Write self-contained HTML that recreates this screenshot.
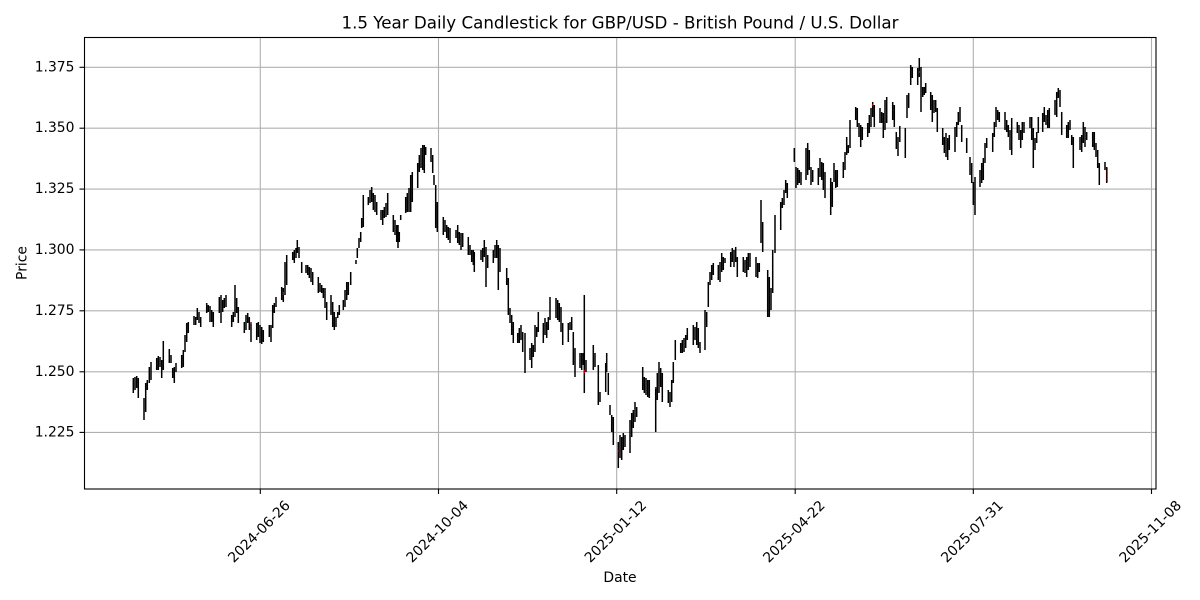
<!DOCTYPE html>
<html><head><meta charset="utf-8"><style>
html,body{margin:0;padding:0;background:#fff;}
svg{display:block;font-family:"DejaVu Sans","Liberation Sans",sans-serif;}
</style></head><body>
<svg width="1200" height="600" viewBox="0 0 1200 600" xmlns="http://www.w3.org/2000/svg">
<rect width="1200" height="600" fill="#fff"/>
<!-- grid -->
<g stroke="#b0b0b0" stroke-width="1.1">
<line x1="84.5" x2="1156" y1="67.3" y2="67.3"/>
<line x1="84.5" x2="1156" y1="128.2" y2="128.2"/>
<line x1="84.5" x2="1156" y1="189.1" y2="189.1"/>
<line x1="84.5" x2="1156" y1="249.9" y2="249.9"/>
<line x1="84.5" x2="1156" y1="310.8" y2="310.8"/>
<line x1="84.5" x2="1156" y1="371.8" y2="371.8"/>
<line x1="84.5" x2="1156" y1="432.4" y2="432.4"/>
<line y1="37.5" y2="489" x1="260.3" x2="260.3"/>
<line y1="37.5" y2="489" x1="438.5" x2="438.5"/>
<line y1="37.5" y2="489" x1="616.7" x2="616.7"/>
<line y1="37.5" y2="489" x1="795.2" x2="795.2"/>
<line y1="37.5" y2="489" x1="973.3" x2="973.3"/>
<line y1="37.5" y2="489" x1="1151.5" x2="1151.5"/>
</g>
<!-- candles -->
<path fill="none" stroke="#000" stroke-width="1.5" d="M133.3 378V393M135 377V390M136.7 376V388M138.3 378V398M144 398V420M145.7 383V412M147.3 380V390M149.3 367V383M151 362V380M156.7 358V370M158.3 356V370M160 357V367M161.7 360V378M163.3 341V370M169.3 349V363M171 355V363M172.7 368V378M174.3 367V383M176 363V372M181.7 355V368M183.3 350V367M185 335V352M186.7 323V342M188.3 322V333M194 316V325M195.7 317V325M197.3 308V320M199 312V323M200.7 317V327M206.7 303V313M208.3 305V312M210 306V322M211.7 310V322M213.3 312V327M219.3 297V313M221 295V323M222.7 300V312M224.3 298V308M226 295V307M231.7 315V327M233.3 312V322M235 285V317M236.7 298V313M238.3 307V323M244.3 322V333M246 315V330M247.7 313V323M249.3 317V330M251 322V342M256.7 323V340M258.3 322V337M260 325V343M261.7 327V344M263.3 330V342M269.3 325V337M271 325V342M272.7 305V328M274.3 303V313M276 297V307M281.7 287V300M283.3 288V302M285 262V295M286.7 255V285M292.7 252V260M294.3 250V263M296 248V258M297.3 240V253M299 247V258M301.7 262V273M306 265V273M307.7 265V275M309.3 267V278M311 268V282M312.7 272V285M318.3 277V293M320 283V292M321.7 285V293M323.3 288V298M325 288V308M326.7 302V320M331 295V315M332.7 302V327M334.3 312V330M336 317V327M337.7 312V318M339.3 305V315M343.3 300V310M345 290V307M346.7 282V300M348.3 282V295M350.7 272V285M356 260V264M357.3 248V258M359 238V248M360.7 232V242M361.7 218V228M363.3 195V227M368.3 197V205M370 190V203M371.7 187V202M373.3 193V210M375 195V212M376.7 202V215M381 210V220M382.7 210V225M384.3 207V218M386 203V217M387.7 193V215M393.3 215V232M395 220V235M396.7 225V242M398 225V248M399.3 232V242M400.7 215V220M405.7 197V213M407.3 193V212M409 188V212M410.7 175V212M412.3 172V202M417.7 163V188M419.3 155V172M421 148V168M422.7 145V170M424.3 145V173M425.7 147V155M431 148V162M432.7 155V173M434 175V185M435.7 185V228M437.3 202V232M443.3 217V235M445 220V232M446.7 225V238M448.3 227V240M450 228V243M456 230V238M457.7 225V243M459.3 232V245M461 233V250M462.7 233V247M468.3 237V255M470 245V255M471.7 250V262M473.3 250V265M474.3 252V272M481 250V260M482.7 248V262M484.3 240V257M486 247V287M487.7 255V268M493.3 250V263M495 245V258M496.7 240V258M498.3 245V290M500 248V272M506.7 268V285M508.3 278V315M510 308V323M511.7 315V335M513.3 322V343M517.7 333V343M519.3 328V343M521 325V340M522.7 332V352M525 333V373M530 348V360M531.7 343V368M533.3 345V357M535 325V352M536.7 327V337M538.3 312V332M543.3 323V343M545 318V335M546.7 322V338M548.3 317V330M550 297V320M556 298V318M557.7 300V320M559.3 303V322M561 307V332M562.7 323V345M568.3 323V342M570 322V330M571.7 317V330M573.3 332V365M575 348V377M580 353V368M581.7 353V370M583.3 353V365M584.3 295V393M586 360V372M593.3 345V370M595 353V367M598.3 365V405M600 392V402M605.7 363V392M606.7 353V372M608.3 373V395M610 405V415M611.7 415V432M613.3 417V445M618.3 442V468M620 435V458M621.7 437V460M623.3 433V450M625 435V447M630 420V453M631.7 413V437M633.3 410V428M635 402V422M636.7 407V417M642.7 367V390M644.3 377V393M646 378V395M647.7 380V397M649.3 380V398M655.7 387V432M657.3 373V400M659 362V393M660.7 368V387M662.3 373V402M668.3 390V403M670 392V407M671.7 380V402M673.3 362V383M675.3 340V360M680.7 343V353M682.3 340V353M684 338V352M685.7 335V348M687.3 328V340M693.3 325V345M695 327V340M696.7 322V345M698.3 328V348M700 342V353M705 310V350M706.7 312V327M708.3 282V307M710 272V285M711.7 265V280M713.3 263V275M718.3 265V280M720 262V282M721.7 253V272M723.3 257V270M725 258V263M730.7 252V267M732.3 248V262M734 250V267M735.7 247V262M737.3 257V277M743.3 257V272M745 260V273M746.7 257V277M748.3 253V270M750 253V267M756 257V277M757.7 263V278M759.3 263V272M761 200V243M762.7 222V252M767.7 270V317M769.3 277V317M771 288V310M772.7 250V293M775 215V253M780.7 202V230M782.3 198V208M784 190V205M785.7 180V193M787.3 183V198M794.3 148V162M796 167V188M797.7 168V185M799.3 170V183M801 172V185M806 148V180M807.7 143V175M809.3 150V170M811 167V185M812.7 170V182M818.3 168V185M820 158V177M821.7 162V180M823.3 163V190M825 172V198M830.7 178V215M832.3 182V207M834 163V182M835.7 170V188M837.3 170V187M843.3 162V178M845 152V170M846.7 137V155M848.3 145V153M850 120V148M855.7 107V120M857.3 108V127M859 123V137M860.7 125V147M862.3 127V140M867.7 123V137M869.3 115V133M871 108V127M872.7 102V117M874.3 105V127M880 108V123M881.7 112V123M883.3 113V138M885 100V130M886.7 97V123M892.7 102V120M894.3 105V127M896.3 132V149M898 137V156M899.8 126V142M905.3 128V158M907 95V118M908.7 93V108M910.7 65V85M912.3 67V78M917.7 68V85M919.3 58V77M921 67V112M922.7 87V97M924.3 87V95M925.7 83V93M930.7 92V110M932.3 95V122M934 100V113M935.7 100V112M937.3 108V132M942.7 128V145M944.3 137V153M946 133V157M947.7 138V160M949.3 135V150M955 127V152M956.7 122V137M958.3 112V125M960 107V122M961.7 125V142M966.7 138V153M970 157V175M971.7 163V183M973.3 182V205M975 177V215M980 170V187M981.7 163V183M983.3 158V180M985 143V163M986.7 138V148M992.7 133V152M994.3 122V137M996 107V127M997.7 110V120M999.3 112V122M1005 112V130M1006.7 120V132M1008.3 125V137M1010 130V150M1011.7 118V155M1017.3 122V133M1019 125V140M1020.7 130V148M1022.3 122V140M1024 122V133M1030 117V128M1031.7 117V140M1033.3 128V168M1035 138V150M1036.7 132V143M1038.3 117V133M1042.7 113V132M1044.3 107V122M1046 115V125M1047.7 110V128M1049.3 108V128M1055 100V115M1056.7 92V117M1058.3 88V98M1060 90V107M1061.7 112V135M1066.7 125V138M1068.3 122V138M1070 120V130M1071.7 135V145M1073.3 137V168M1080 137V150M1081.7 135V152M1083.3 122V143M1085 127V147M1086.7 132V140M1092.7 132V147M1094.3 132V150M1096 143V157M1097.7 150V168M1099.3 163V185M1105 162V170M1106.7 167V183"/>
<path fill="none" stroke="#d00" stroke-width="1" d="M1107.3 168V182M283.3 292V295M251 322V324M584.3 370V373M619 450V452M655.7 387V389M872.7 104V106M919.3 71V73"/>
<!-- axes frame -->
<rect x="84.5" y="37.5" width="1071.5" height="451.5" fill="none" stroke="#000" stroke-width="1.1"/>
<!-- ticks -->
<g stroke="#000" stroke-width="1.1">
<line x1="79.5" x2="84.5" y1="67.3" y2="67.3"/>
<line x1="79.5" x2="84.5" y1="128.2" y2="128.2"/>
<line x1="79.5" x2="84.5" y1="189.1" y2="189.1"/>
<line x1="79.5" x2="84.5" y1="249.9" y2="249.9"/>
<line x1="79.5" x2="84.5" y1="310.8" y2="310.8"/>
<line x1="79.5" x2="84.5" y1="371.8" y2="371.8"/>
<line x1="79.5" x2="84.5" y1="432.4" y2="432.4"/>
<line y1="489" y2="494" x1="260.3" x2="260.3"/>
<line y1="489" y2="494" x1="438.5" x2="438.5"/>
<line y1="489" y2="494" x1="616.7" x2="616.7"/>
<line y1="489" y2="494" x1="795.2" x2="795.2"/>
<line y1="489" y2="494" x1="973.3" x2="973.3"/>
<line y1="489" y2="494" x1="1151.5" x2="1151.5"/>
</g>
<!-- y tick labels -->
<g font-size="13.9" fill="#000" text-anchor="end" dominant-baseline="central">
<text x="74.5" y="67.3">1.375</text>
<text x="74.5" y="128.2">1.350</text>
<text x="74.5" y="189.1">1.325</text>
<text x="74.5" y="249.9">1.300</text>
<text x="74.5" y="310.8">1.275</text>
<text x="74.5" y="371.8">1.250</text>
<text x="74.5" y="432.4">1.225</text>
</g>
<!-- x tick labels -->
<g font-size="13.9" fill="#000" text-anchor="middle" dominant-baseline="central">
<text transform="translate(259.5,532) rotate(-45)">2024-06-26</text>
<text transform="translate(437.7,532) rotate(-45)">2024-10-04</text>
<text transform="translate(615.9,532) rotate(-45)">2025-01-12</text>
<text transform="translate(794.4,532) rotate(-45)">2025-04-22</text>
<text transform="translate(972.5,532) rotate(-45)">2025-07-31</text>
<text transform="translate(1150.7,532) rotate(-45)">2025-11-08</text>
</g>
<!-- axis labels -->
<text x="620" y="582" font-size="13.9" text-anchor="middle" fill="#000">Date</text>
<text transform="translate(26.5,263) rotate(-90)" font-size="13.9" text-anchor="middle" fill="#000">Price</text>
<!-- title -->
<text x="620" y="28.5" font-size="16.7" text-anchor="middle" fill="#000">1.5 Year Daily Candlestick for GBP/USD - British Pound / U.S. Dollar</text>
</svg>
</body></html>
